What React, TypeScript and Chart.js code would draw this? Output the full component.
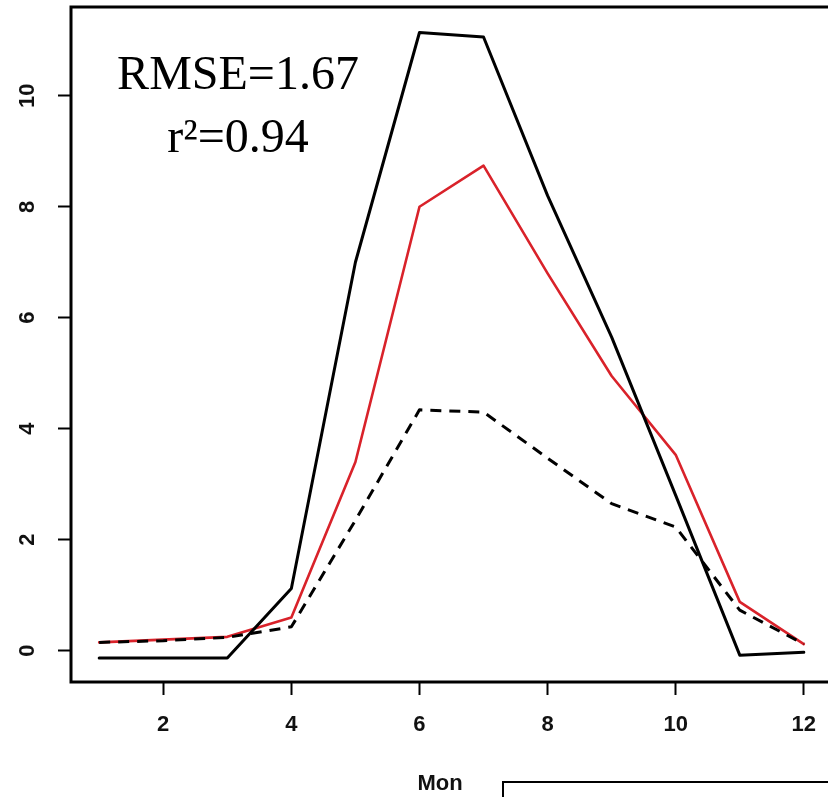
import { useEffect, useRef } from "react";
import { Chart, registerables } from "chart.js";

Chart.register(...registerables);

// Monthly values
const months = [1, 2, 3, 4, 5, 6, 7, 8, 9, 10, 11, 12];
const observed = [-0.13, -0.13, -0.13, 1.12, 7.0, 11.14, 11.06, 8.2, 5.65, 2.8, -0.08, -0.03];
const simulated = [0.15, 0.2, 0.25, 0.6, 3.4, 8.0, 8.74, 6.8, 4.95, 3.53, 0.88, 0.12];
const baseline = [0.15, 0.18, 0.24, 0.43, 2.35, 4.34, 4.3, 3.47, 2.65, 2.23, 0.73, 0.12];

const xTicks = [2, 4, 6, 8, 10, 12];
const yTicks = [0, 2, 4, 6, 8, 10];
const statLines = ["RMSE=1.67", "r\u00B2=0.94"];
const xTitle = "Mon";

const X_MIN = 0.56;
const X_MAX = 12.44;
const Y_MIN = -0.564;
const Y_MAX = 11.6;

const SANS = "'Liberation Sans Narrow', 'Liberation Sans', Arial, sans-serif";
const SERIF = "'Liberation Serif', 'Times New Roman', serif";

const toPoints = (ys: number[]) => months.map((m, i) => ({ x: m, y: ys[i] }));

// Box around the plot, rotated y labels, axis title, stats and the legend frame
const decorations = {
  id: "decorations",
  afterDraw(chart: any) {
    const { ctx, chartArea: a, scales } = chart;
    ctx.save();
    ctx.strokeStyle = "#000";
    ctx.lineWidth = 3;
    ctx.strokeRect(a.left, a.top, a.right - a.left, a.bottom - a.top);

    ctx.fillStyle = "#111";
    ctx.font = `bold 22px ${SANS}`;
    ctx.textAlign = "center";
    ctx.textBaseline = "alphabetic";
    for (const v of yTicks) {
      const py = scales.y.getPixelForValue(v);
      ctx.save();
      ctx.translate(34, py);
      ctx.rotate(-Math.PI / 2);
      ctx.fillText(String(v), 0, 0);
      ctx.restore();
    }

    ctx.fillText(xTitle, 440, 790);

    ctx.lineWidth = 2;
    ctx.strokeRect(503, 782, 400, 100);

    ctx.fillStyle = "#000";
    ctx.font = `48px ${SERIF}`;
    ctx.fillText(statLines[0], 238, 89);
    ctx.fillText(statLines[1], 238, 152);
    ctx.restore();
  },
};

export default function App() {
  const canvasRef = useRef<HTMLCanvasElement | null>(null);

  useEffect(() => {
    if (!canvasRef.current) return;
    const chart = new Chart(canvasRef.current, {
      type: "line",
      data: {
        datasets: [
          {
            data: toPoints(baseline),
            borderColor: "#000",
            borderWidth: 3,
            borderDash: [11, 8],
            pointRadius: 0,
            tension: 0,
            borderCapStyle: "butt",
            borderJoinStyle: "round",
          },
          {
            data: toPoints(observed),
            borderColor: "#000",
            borderWidth: 3,
            pointRadius: 0,
            tension: 0,
            borderCapStyle: "round",
            borderJoinStyle: "round",
          },
          {
            data: toPoints(simulated),
            borderColor: "#d9222a",
            borderWidth: 2.6,
            pointRadius: 0,
            tension: 0,
            borderCapStyle: "round",
            borderJoinStyle: "round",
          },
        ],
      },
      options: {
        responsive: false,
        animation: false,
        devicePixelRatio: 1,
        layout: { padding: { top: 7, right: 4, left: 0, bottom: 0 } },
        plugins: { legend: { display: false }, tooltip: { enabled: false } },
        scales: {
          x: {
            type: "linear",
            min: X_MIN,
            max: X_MAX,
            afterBuildTicks: (s: any) => {
              s.ticks = xTicks.map((v) => ({ value: v }));
            },
            afterFit: (s: any) => {
              s.height = 115;
            },
            border: { display: false },
            grid: {
              drawOnChartArea: false,
              drawTicks: true,
              tickLength: 13,
              tickWidth: 2,
              tickColor: "#000",
            },
            ticks: {
              color: "#111",
              padding: 17,
              maxRotation: 0,
              font: { family: SANS, size: 22, weight: "bold" },
              callback: (v: any) => String(v),
            },
          },
          y: {
            type: "linear",
            min: Y_MIN,
            max: Y_MAX,
            afterBuildTicks: (s: any) => {
              s.ticks = yTicks.map((v) => ({ value: v }));
            },
            afterFit: (s: any) => {
              s.width = 71;
            },
            border: { display: false },
            grid: {
              drawOnChartArea: false,
              drawTicks: true,
              tickLength: 13,
              tickWidth: 2,
              tickColor: "#000",
            },
            ticks: { display: false },
          },
        },
      },
      plugins: [decorations],
    });
    return () => chart.destroy();
  }, []);

  return (
    <div
      style={{
        position: "absolute",
        left: 0,
        top: 0,
        width: 828,
        height: 797,
        overflow: "hidden",
        background: "#fff",
      }}
    >
      <canvas ref={canvasRef} width={836} height={797} style={{ display: "block" }} />
    </div>
  );
}
